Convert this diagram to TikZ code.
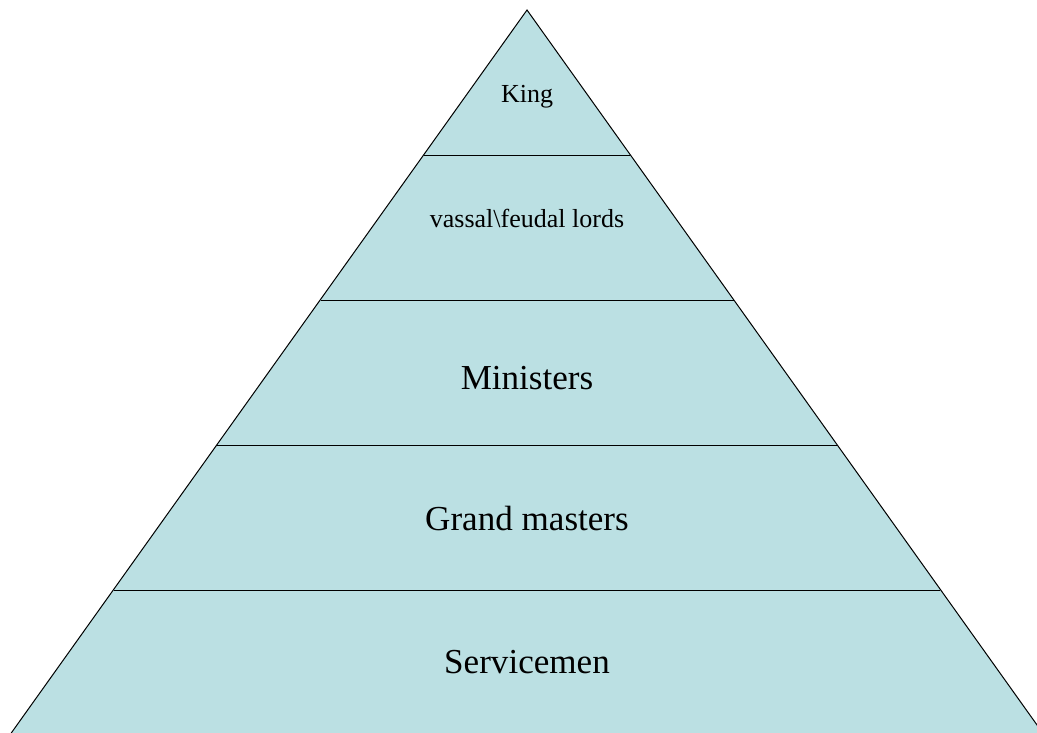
\documentclass[tikz,border=0pt]{standalone}
\usepackage{fontspec}
\setmainfont{Liberation Serif}
\usepackage{tikz}
\definecolor{tierblue}{RGB}{187,224,227}

\begin{document}
\begin{tikzpicture}[x = 0.75pt, y = -0.75pt,
		tier/.style = {draw = black, line width = 0.75pt},
		smalllabel/.style = {anchor = base, inner sep = 0pt, font = \fontsize{19.5}{22}\selectfont},
		biglabel/.style = {anchor = base, inner sep = 0pt, font = \fontsize{26.3}{30}\selectfont}]
		\useasboundingbox (0,0) rectangle (1037,732);
		\coordinate (apex) at (527,10);
		\coordinate (bl) at (10.9,733.5);
		\coordinate (br) at (1043.1,733.5);
		\coordinate (l1) at (424,155);   \coordinate (r1) at (630,155);
		\coordinate (l2) at (320.5,300); \coordinate (r2) at (733.5,300);
		\coordinate (l3) at (217.3,445); \coordinate (r3) at (836.7,445);
		\coordinate (l4) at (114.1,590); \coordinate (r4) at (939.9,590);
		\filldraw [tier, fill = tierblue] (apex) -- (br) -- (bl) -- cycle;
		\draw [tier] (l1) -- (r1) (l2) -- (r2) (l3) -- (r3) (l4) -- (r4);
		\node (king) at (527,102) [smalllabel] {King};
		\node (lords) at (527,227) [smalllabel] {vassal\textbackslash feudal lords};
		\node (ministers) at (527,389) [biglabel] {Ministers};
		\node (masters) at (527,530) [biglabel] {Grand masters};
		\node (servicemen) at (527,673) [biglabel] {Servicemen};
	\end{tikzpicture}
\end{document}
